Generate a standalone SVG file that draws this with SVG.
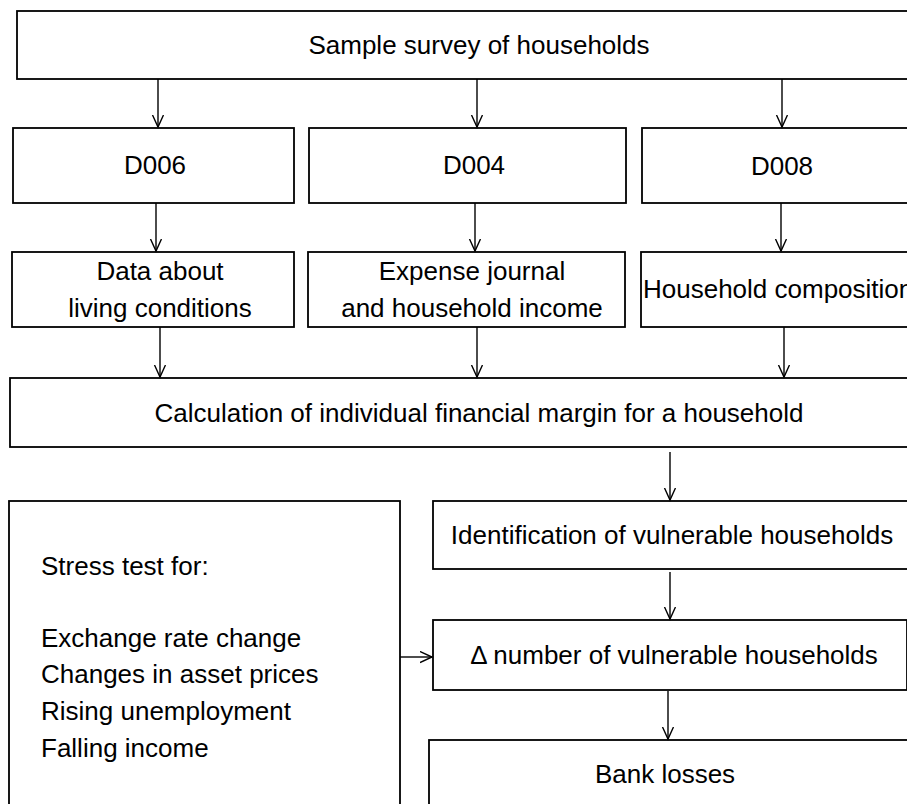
<svg xmlns="http://www.w3.org/2000/svg" width="907" height="804" viewBox="0 0 907 804">
<defs>
<marker id="ah" markerWidth="14" markerHeight="14" refX="12" refY="6" orient="auto" markerUnits="userSpaceOnUse">
<path d="M0,0.5 L12,6 L0,11.5" fill="none" stroke="#000" stroke-width="1.4"/>
</marker>
<style>
.box{fill:#fff;stroke:#000;stroke-width:1.8}
.t{font-family:"Liberation Sans",Arial,Helvetica,sans-serif;font-size:26px;fill:#000}
.c{text-anchor:middle}
.ln{stroke:#000;stroke-width:1.4;fill:none;marker-end:url(#ah)}
</style>
</defs>
<rect width="907" height="804" fill="#fff"/>
<g id="survey"><rect class="box" x="17" y="11" width="900" height="68"/><text class="t c" x="479" y="54">Sample survey of households</text></g>
<g id="d006"><rect class="box" x="13" y="128" width="281" height="75"/><text class="t c" x="155" y="174">D006</text></g>
<g id="d004"><rect class="box" x="309" y="128" width="317" height="75"/><text class="t c" x="474" y="174">D004</text></g>
<g id="d008"><rect class="box" x="642" y="128" width="280" height="75"/><text class="t c" x="782" y="175">D008</text></g>
<g id="living"><rect class="box" x="12" y="252" width="282" height="75"/><text class="t c" x="160" y="280">Data about</text><text class="t c" x="160" y="317">living conditions</text></g>
<g id="expense"><rect class="box" x="308" y="252" width="317" height="75"/><text class="t c" x="472" y="280">Expense journal</text><text class="t c" x="472" y="317">and household income</text></g>
<g id="composition"><rect class="box" x="641" y="252" width="280" height="75"/><text class="t" x="643" y="298">Household composition</text></g>
<g id="calc"><rect class="box" x="10" y="378" width="910" height="69"/><text class="t c" x="479" y="422">Calculation of individual financial margin for a household</text></g>
<g id="stress"><rect class="box" x="9" y="501" width="391" height="320"/>
<text class="t" x="41" y="575">Stress test for:</text>
<text class="t" x="41" y="647">Exchange rate change</text>
<text class="t" x="41" y="683">Changes in asset prices</text>
<text class="t" x="41" y="720">Rising unemployment</text>
<text class="t" x="41" y="757">Falling income</text></g>
<g id="identification"><rect class="box" x="433" y="501" width="490" height="68"/><text class="t c" x="672" y="544">Identification of vulnerable households</text></g>
<g id="delta"><rect class="box" x="433" y="620" width="474" height="70"/><text class="t c" x="674" y="664">Δ number of vulnerable households</text></g>
<g id="bank"><rect class="box" x="429" y="740" width="490" height="80"/><text class="t c" x="665" y="783">Bank losses</text></g>
<g id="connectors">
<line class="ln" x1="158" y1="79" x2="158" y2="127"/>
<line class="ln" x1="477" y1="79" x2="477" y2="127"/>
<line class="ln" x1="782" y1="79" x2="782" y2="127"/>
<line class="ln" x1="156" y1="203" x2="156" y2="251"/>
<line class="ln" x1="475" y1="203" x2="475" y2="251"/>
<line class="ln" x1="781" y1="203" x2="781" y2="251"/>
<line class="ln" x1="160" y1="327" x2="160" y2="377"/>
<line class="ln" x1="477" y1="327" x2="477" y2="377"/>
<line class="ln" x1="784" y1="327" x2="784" y2="377"/>
<line class="ln" x1="670" y1="452" x2="670" y2="500"/>
<line class="ln" x1="670" y1="572" x2="670" y2="619"/>
<line class="ln" x1="668" y1="691" x2="668" y2="739"/>
<line class="ln" x1="400" y1="657" x2="432" y2="657"/>
</g>
</svg>
